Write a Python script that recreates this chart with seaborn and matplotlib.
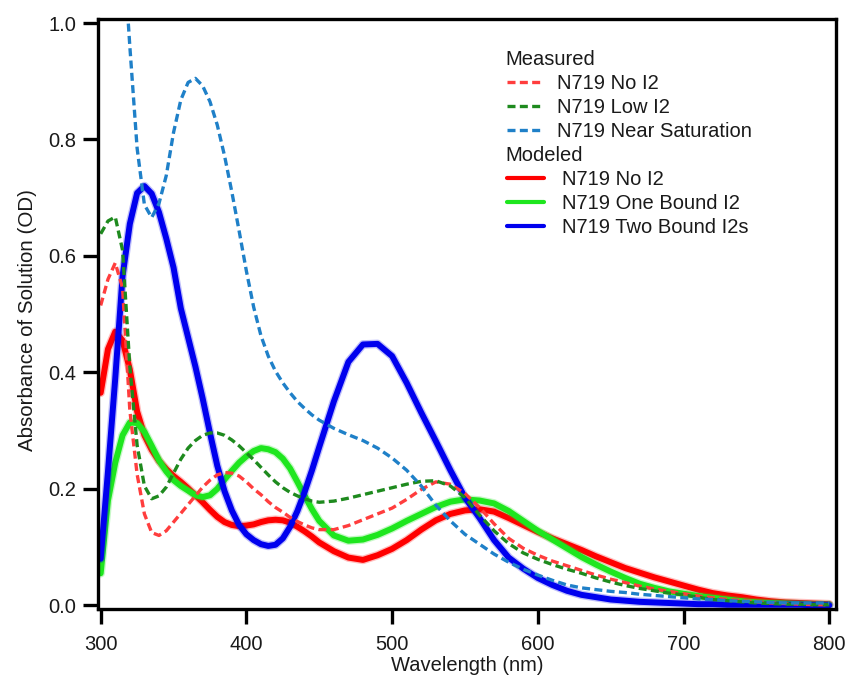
import matplotlib
matplotlib.use("Agg")
import matplotlib.pyplot as plt
from matplotlib.lines import Line2D
import seaborn as sns
import pandas as pd

# Wavelength sampling (nm)
wavelength = [300, 305, 310, 315, 320, 325, 330, 335, 340, 345, 350, 355, 360, 365, 370,
              375, 380, 385, 390, 395, 400, 405, 410, 415, 420, 425, 430, 435, 440, 445, 450,
              460, 470, 480, 490, 500, 510, 520, 530, 540, 550, 560, 570, 580, 590, 600,
              610, 620, 630, 640, 650, 660, 670, 680, 690, 700, 710, 720, 730, 740, 750,
              760, 770, 780, 790, 800]

# Measured absorbance (OD)
meas_no_i2 = [0.515, 0.560, 0.588, 0.545, 0.335, 0.225, 0.157, 0.125, 0.120, 0.128, 0.143,
              0.158, 0.173, 0.188, 0.203, 0.215, 0.224, 0.228, 0.227, 0.222, 0.212, 0.200,
              0.190, 0.178, 0.168, 0.160, 0.151, 0.144, 0.138, 0.133, 0.130,
              0.130, 0.137, 0.147, 0.157, 0.167, 0.182, 0.199, 0.212, 0.208, 0.192, 0.168,
              0.140, 0.115, 0.098, 0.086, 0.076, 0.068, 0.060, 0.052, 0.045, 0.039, 0.033,
              0.028, 0.024, 0.020, 0.016, 0.013, 0.010, 0.008, 0.006, 0.004, 0.003, 0.002,
              0.001, 0.001]
meas_low_i2 = [0.638, 0.660, 0.667, 0.610, 0.410, 0.275, 0.205, 0.183, 0.188, 0.203, 0.227,
               0.251, 0.270, 0.283, 0.292, 0.296, 0.296, 0.292, 0.284, 0.274, 0.262, 0.250,
               0.237, 0.224, 0.212, 0.202, 0.194, 0.188, 0.183, 0.179, 0.177,
               0.179, 0.184, 0.190, 0.196, 0.202, 0.208, 0.213, 0.214, 0.205, 0.185, 0.155,
               0.128, 0.106, 0.090, 0.079, 0.070, 0.062, 0.055, 0.047, 0.040, 0.034, 0.029,
               0.025, 0.021, 0.018, 0.014, 0.010, 0.008, 0.006, 0.004, 0.003, 0.002, 0.002,
               0.001, 0.001]
meas_near_sat = [1.900, 1.650, 1.400, 1.150, 0.960, 0.785, 0.688, 0.666, 0.690, 0.738, 0.812,
                 0.868, 0.898, 0.905, 0.892, 0.865, 0.825, 0.772, 0.710, 0.643, 0.574, 0.512,
                 0.463, 0.428, 0.402, 0.382, 0.365, 0.350, 0.338, 0.327, 0.318,
                 0.304, 0.293, 0.283, 0.270, 0.253, 0.232, 0.205, 0.172, 0.145, 0.122, 0.105,
                 0.088, 0.074, 0.062, 0.052, 0.043, 0.035, 0.030, 0.027, 0.024, 0.022, 0.019,
                 0.017, 0.015, 0.013, 0.011, 0.010, 0.008, 0.007, 0.006, 0.005, 0.004, 0.004,
                 0.004, 0.004]

# Modeled absorbance (OD)
model_no_i2 = [0.365, 0.440, 0.470, 0.455, 0.405, 0.333, 0.292, 0.267, 0.248, 0.234, 0.222,
               0.212, 0.201, 0.189, 0.177, 0.164, 0.152, 0.143, 0.138, 0.136, 0.137, 0.139,
               0.143, 0.146, 0.147, 0.146, 0.142, 0.135, 0.127, 0.118, 0.108,
               0.093, 0.082, 0.078, 0.086, 0.097, 0.112, 0.130, 0.146, 0.157, 0.163, 0.165,
               0.161, 0.150, 0.138, 0.126, 0.115, 0.105, 0.095, 0.084, 0.074, 0.064, 0.056,
               0.048, 0.041, 0.034, 0.027, 0.021, 0.017, 0.014, 0.010, 0.007, 0.005, 0.004,
               0.003, 0.002]
model_one_i2 = [0.055, 0.180, 0.245, 0.292, 0.314, 0.313, 0.298, 0.274, 0.249, 0.230, 0.215,
                0.205, 0.197, 0.189, 0.186, 0.189, 0.200, 0.216, 0.231, 0.245, 0.256, 0.265,
                0.270, 0.268, 0.263, 0.252, 0.235, 0.212, 0.188, 0.165, 0.145,
                0.120, 0.111, 0.113, 0.121, 0.132, 0.145, 0.157, 0.169, 0.178, 0.182, 0.180,
                0.175, 0.162, 0.145, 0.128, 0.113, 0.098, 0.083, 0.070, 0.058, 0.047, 0.037,
                0.030, 0.024, 0.020, 0.016, 0.013, 0.010, 0.007, 0.005, 0.004, 0.003, 0.002,
                0.001, 0.001]
model_two_i2 = [0.080, 0.230, 0.390, 0.565, 0.655, 0.708, 0.720, 0.707, 0.675, 0.630, 0.580,
                0.510, 0.460, 0.410, 0.355, 0.296, 0.240, 0.196, 0.163, 0.138, 0.122, 0.112,
                0.105, 0.102, 0.104, 0.115, 0.135, 0.162, 0.195, 0.232, 0.272,
                0.350, 0.418, 0.448, 0.449, 0.428, 0.382, 0.331, 0.282, 0.232, 0.185, 0.150,
                0.112, 0.082, 0.063, 0.047, 0.035, 0.025, 0.018, 0.014, 0.010, 0.008, 0.006,
                0.005, 0.004, 0.003, 0.002, 0.002, 0.001, 0.001, 0.001, 0.001, 0.001, 0.001,
                0.000, 0.000]

x_ticks = [300, 400, 500, 600, 700, 800]
y_ticks = [0.0, 0.2, 0.4, 0.6, 0.8, 1.0]

measured = [
    ("N719 No I2", meas_no_i2, "#ff3d3d"),
    ("N719 Low I2", meas_low_i2, "#1e8a1e"),
    ("N719 Near Saturation", meas_near_sat, "#1f80c8"),
]
modeled = [
    ("N719 No I2", model_no_i2, "#ff0000"),
    ("N719 One Bound I2", model_one_i2, "#1ee61e"),
    ("N719 Two Bound I2s", model_two_i2, "#0000ee"),
]

sns.set_style("ticks")
plt.rcParams["font.family"] = ["Liberation Sans", "DejaVu Sans"]

fig = plt.figure(figsize=(8.48, 6.77), dpi=100)
ax = fig.add_axes([0.1159, 0.1007, 0.8704, 0.8712])

dash = (0, (2.4, 1.3))

# Modeled curves: thick solid lines with a soft halo
for label, vals, color in modeled:
    df = pd.DataFrame({"wl": wavelength, "od": vals})
    sns.lineplot(data=df, x="wl", y="od", ax=ax, color=color, linewidth=6.2,
                 alpha=0.25, legend=False)
    sns.lineplot(data=df, x="wl", y="od", ax=ax, color=color, linewidth=4.3,
                 legend=False)

# Measured curves: dashed lines
for label, vals, color in measured:
    df = pd.DataFrame({"wl": wavelength, "od": vals})
    sns.lineplot(data=df, x="wl", y="od", ax=ax, color=color, linewidth=2.4,
                 linestyle=dash, legend=False)

ax.set_xlim(298.35, 804.9)
ax.set_ylim(-0.006, 1.0069)
ax.set_xticks(x_ticks)
ax.set_yticks(y_ticks)
ax.set_xticklabels([str(t) for t in x_ticks])
ax.set_yticklabels([f"{t:.1f}" for t in y_ticks])

for side in ["left", "right", "top", "bottom"]:
    ax.spines[side].set_visible(True)
    ax.spines[side].set_linewidth(2.4)
    ax.spines[side].set_color("black")

ax.tick_params(axis="both", direction="out", length=11, width=2.4,
               color="black", labelsize=14.5, labelcolor="#1a1a1a")
ax.tick_params(axis="x", pad=8)
ax.tick_params(axis="y", pad=5)

ax.set_xlabel("Wavelength (nm)", fontsize=14.5, labelpad=1, color="#1a1a1a")
ax.set_ylabel("Absorbance of Solution (OD)", fontsize=14.8, color="#1a1a1a")
ax.yaxis.set_label_coords(-0.083, 0.49)

# Grouped legend with section headers
handles, labels = [], []
handles.append(Line2D([], [], color="none"))
labels.append("Measured")
for label, vals, color in measured:
    handles.append(Line2D([], [], color=color, linewidth=2.4, linestyle=dash))
    labels.append(label)
handles.append(Line2D([], [], color="none"))
labels.append("Modeled")
for label, vals, color in modeled:
    handles.append(Line2D([], [], color=color, linewidth=3.0))
    labels.append(label)

leg = ax.legend(handles, labels, loc="upper left", bbox_to_anchor=(0.5537, 0.9474),
                frameon=False, fontsize=14.5, handlelength=1.84, handletextpad=0.65,
                labelspacing=0.245, borderpad=0, borderaxespad=0)
texts = leg.get_texts()
for i, t in enumerate(texts):
    t.set_color("#1a1a1a")
    if labels[i] in ("Measured", "Modeled"):
        t.set_x(-52)
    elif i > 4:
        t.set_x(5)

fig.savefig("out.png", dpi=100)
